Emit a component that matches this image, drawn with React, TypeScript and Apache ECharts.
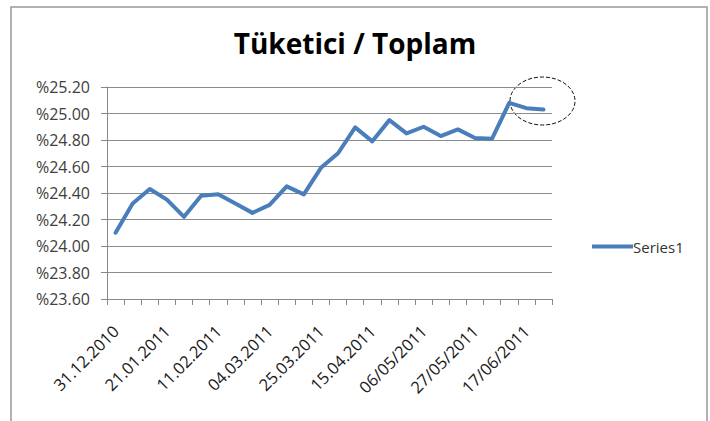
import React, { useEffect, useRef } from "react";
import * as echarts from "echarts";

const titleText = "Tüketici / Toplam";
const seriesName = "Series1";
const categories = [
  "31.12.2010", "07.01.2011", "14.01.2011", "21.01.2011", "28.01.2011",
  "04.02.2011", "11.02.2011", "18.02.2011", "25.02.2011", "04.03.2011",
  "11.03.2011", "18.03.2011", "25.03.2011", "01.04.2011", "08.04.2011",
  "15.04.2011", "22.04.2011", "29.04.2011", "06/05/2011", "13/05/2011",
  "20/05/2011", "27/05/2011", "03/06/2011", "10/06/2011", "17/06/2011",
  "24/06/2011",
];
const values = [
  24.1, 24.32, 24.43, 24.35, 24.22, 24.38, 24.39, 24.32, 24.25, 24.31,
  24.45, 24.39, 24.59, 24.7, 24.895, 24.79, 24.95, 24.85, 24.9, 24.83,
  24.88, 24.815, 24.81, 25.08, 25.04, 25.03,
];
const yMin = 23.6;
const yMax = 25.2;
const yStep = 0.2;

const FONT = "'Open Sans', sans-serif";

export default function App() {
  const ref = useRef<HTMLDivElement>(null);
  useEffect(() => {
    if (!ref.current) return;
    const chart = echarts.init(ref.current, null, { renderer: "svg" });
    chart.setOption({
      animation: false,
      backgroundColor: "#ffffff",
      title: {
        text: titleText,
        left: "center",
        top: 24,
        textStyle: { fontFamily: FONT, fontSize: 28, fontWeight: "bold", color: "#000" },
      },
      legend: {
        data: [seriesName],
        left: 587,
        top: 234,
        icon: "rect",
        itemWidth: 41,
        itemHeight: 4,
        textStyle: { fontFamily: FONT, fontSize: 15, color: "#333", padding: [0, 0, 0, -5] },
      },
      grid: { left: 107, right: 158, top: 87, bottom: 122 },
      xAxis: {
        type: "category",
        data: categories,
        boundaryGap: true,
        axisLine: { lineStyle: { color: "#888", width: 1 } },
        axisTick: { show: true, interval: 0, length: 6, lineStyle: { color: "#888" } },
        axisLabel: {
          interval: 2,
          rotate: 45,
          margin: 29,
          fontFamily: FONT,
          fontSize: 16.5,
          fontWeight: 500,
          color: "#1a1a1a",
        },
        splitLine: { show: false },
      },
      yAxis: {
        type: "value",
        min: yMin,
        max: yMax,
        interval: yStep,
        axisLine: { show: true, lineStyle: { color: "#888", width: 1 } },
        axisTick: { show: true, length: 6, lineStyle: { color: "#888" } },
        axisLabel: {
          margin: 17,
          fontFamily: FONT,
          fontSize: 16,
          color: "#404040",
          formatter: (v: number) => "%" + v.toFixed(2),
        },
        splitLine: { show: true, lineStyle: { color: "#8c8c8c", width: 1 } },
      },
      series: [
        {
          name: seriesName,
          type: "line",
          data: values,
          showSymbol: false,
          symbol: "none",
          smooth: false,
          color: "#4a7ebb",
          lineStyle: { color: "#4a7ebb", width: 4, join: "round", cap: "round" },
        },
      ],
      graphic: [
        {
          type: "rect",
          shape: { x: 11, y: 7, width: 696, height: 440 },
          style: { fill: "none", stroke: "#999", lineWidth: 1.5 },
          silent: true,
        },
        {
          type: "ellipse",
          shape: { cx: 542.5, cy: 101, rx: 32.5, ry: 24 },
          style: { fill: "none", stroke: "#111", lineWidth: 1, lineDash: [4, 2] },
          silent: true,
        },
      ],
    });
    return () => chart.dispose();
  }, []);
  return (
    <div
      ref={ref}
      style={{ position: "fixed", left: 0, top: 0, width: 710, height: 421, background: "#fff" }}
    />
  );
}
